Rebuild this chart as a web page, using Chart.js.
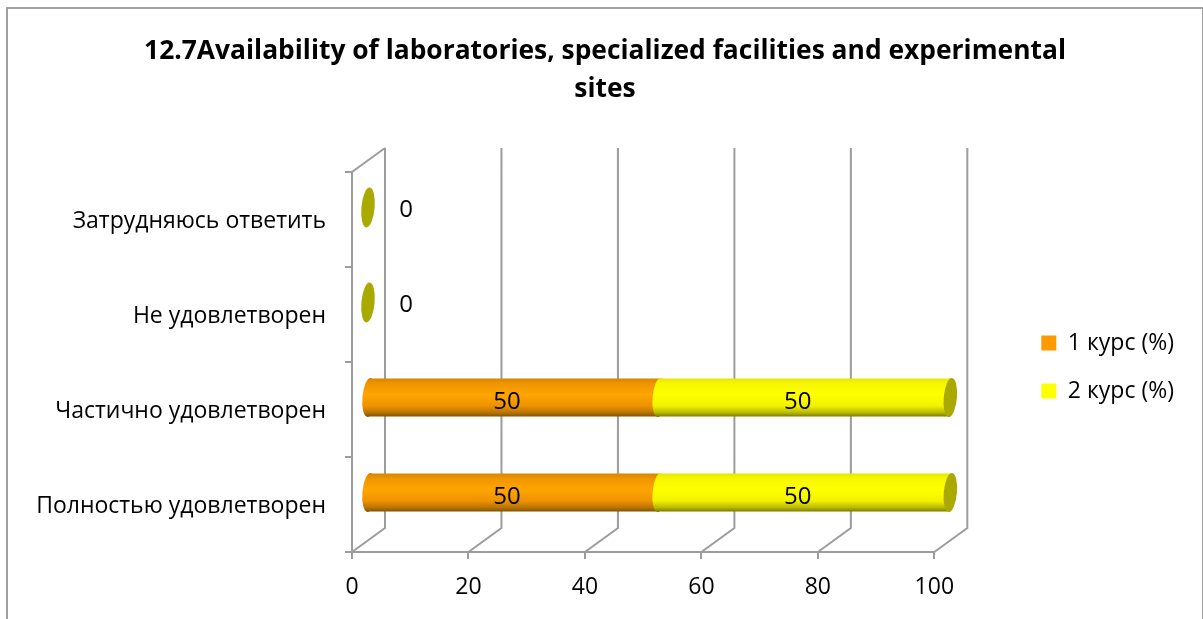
<!DOCTYPE html>
<html><head><meta charset="utf-8">
<script src="https://cdn.jsdelivr.net/npm/chart.js@4"></script>
<style>
html,body{margin:0;padding:0;background:#fff;overflow:hidden}
#frame{position:absolute;left:6px;top:7px;width:1194px;height:620px;border:2px solid #a0a0a0;border-bottom:none}
#frame canvas{display:block}
</style></head><body>
<div id="frame"><canvas id="c" width="1194" height="612"></canvas></div>
<script>
const titleLines = ['12.7Availability of laboratories, specialized facilities and experimental','sites'];
const categories = ['Затрудняюсь ответить','Не удовлетворен','Частично удовлетворен','Полностью удовлетворен'];
const course1 = [0,0,50,50];
const course2 = [0,0,50,50];
const seriesNames = ['1 курс (%)','2 курс (%)'];
const tickValues = [0,20,40,60,80,100];
const legendColors = ['#ff9900','#ffff00'];

const FONT = '"Open Sans"';
const GRID = '#9c9c9c';
const DEPTH_X = 33, DEPTH_Y = 24;
const OFF_X = 16, OFF_Y = -12;
const CAP = 6.6, TILT = 5*Math.PI/180;
const LEGEND_CENTER = 358;

function grad(ctx, top, h, stops){
  const g = ctx.createLinearGradient(0, top, 0, top+h);
  stops.forEach(s=>g.addColorStop(s[0], s[1]));
  return g;
}
const ORANGE = [[0,'#d98300'],[0.12,'#ee9400'],[0.42,'#ffa500'],[0.72,'#ee9200'],[0.9,'#b87400'],[1,'#7f5408']];
const YELLOW = [[0,'#e6e600'],[0.12,'#f6f600'],[0.42,'#ffff00'],[0.72,'#f2f200'],[0.9,'#b8b800'],[1,'#7c7c00']];
function fillFor(stops, solid){
  return c => {
    const y = c.chart.scales.y;
    if(!y || c.dataIndex===undefined) return solid;
    const p = y.getPixelForValue(c.dataIndex);
    if(!Number.isFinite(p)) return solid;
    return grad(c.chart.ctx, p-19, 38, stops);
  };
}

const wallPlugin = {
  id:'walls',
  beforeDraw(chart){
    const lg = chart.legend, h = lg.bottom-lg.top;
    lg.top = LEGEND_CENTER-h/2; lg.bottom = LEGEND_CENTER+h/2;
  },
  beforeDatasetsDraw(chart){
    const {ctx, scales:{x,y}} = chart;
    const bot = y.bottom, top = y.top;
    ctx.save();
    ctx.strokeStyle = GRID; ctx.lineWidth = 2;
    ctx.beginPath();
    tickValues.forEach(v=>{
      const px = x.getPixelForValue(v);
      ctx.moveTo(px, bot); ctx.lineTo(px+DEPTH_X, bot-DEPTH_Y);
      ctx.lineTo(px+DEPTH_X, top-DEPTH_Y);
    });
    const l = x.getPixelForValue(0);
    ctx.moveTo(l, bot); ctx.lineTo(l, top); ctx.lineTo(l+DEPTH_X, top-DEPTH_Y);
    ctx.stroke();
    ctx.restore();
  }
};
const barPlugin = {
  id:'tubes',
  beforeDatasetDraw(chart){ chart.ctx.save(); chart.ctx.translate(OFF_X, OFF_Y); },
  afterDatasetDraw(chart){ chart.ctx.restore(); },
  afterDatasetsDraw(chart){
    const ctx = chart.ctx;
    ctx.save();
    ctx.translate(OFF_X, OFF_Y);
    [0,1].forEach(i=>{
      const stops = i===0 ? ORANGE : YELLOW;
      chart.getDatasetMeta(i).data.forEach(el=>{
        if(el.x === el.base){
          if(i===1){
            ctx.beginPath();
            ctx.ellipse(el.x, el.y, CAP, 20, TILT, 0, 2*Math.PI);
            ctx.fillStyle = '#a9a900';
            ctx.fill();
          }
          return;
        }
        const h = el.height, top = el.y-h/2;
        ctx.beginPath();
        ctx.ellipse(el.base, el.y, CAP, h/2+0.5, TILT, 0, 2*Math.PI);
        ctx.fillStyle = grad(ctx, top, h, stops);
        ctx.fill();
        if(i===1){
          ctx.beginPath();
          ctx.ellipse(el.x, el.y, CAP, h/2+0.5, TILT, 0, 2*Math.PI);
          ctx.fillStyle = '#a9a900';
          ctx.fill();
        }
      });
    });
    ctx.restore();

    ctx.save();
    ctx.font = '24px '+FONT; ctx.fillStyle = '#000';
    ctx.textAlign='center'; ctx.textBaseline='middle';
    chart.data.datasets.forEach((ds,i)=>{
      chart.getDatasetMeta(i).data.forEach((el,j)=>{
        const v = ds.data[j];
        if(v===0){
          if(i===0) ctx.fillText('0', el.x+54, el.y-9);
        } else {
          ctx.fillText(String(v), (el.x+el.base)/2+9, el.y-7);
        }
      });
    });
    ctx.restore();
  }
};

new Chart(document.getElementById('c'),{
  type:'bar',
  data:{labels:categories,datasets:[
    {label:seriesNames[0],data:course1,backgroundColor:fillFor(ORANGE,legendColors[0]),borderWidth:0},
    {label:seriesNames[1],data:course2,backgroundColor:fillFor(YELLOW,legendColors[1]),borderWidth:0}
  ]},
  options:{
    indexAxis:'y',responsive:false,animation:false,
    categoryPercentage:1,barPercentage:0.4,
    layout:{autoPadding:false,padding:{left:18,right:18,top:0,bottom:0}},
    scales:{
      x:{type:'linear',stacked:true,min:0,max:100,
        afterBuildTicks(s){s.ticks=tickValues.map(v=>({value:v}));},
        grid:{drawOnChartArea:false,drawTicks:true,tickLength:7,color:GRID,lineWidth:2},
        border:{color:GRID,width:2},
        ticks:{color:'#000',font:{family:FONT,size:23},padding:15,maxRotation:0,autoSkip:false},
        afterFit(s){s.height=69;}
      },
      y:{type:'category',stacked:true,
        grid:{drawOnChartArea:false,drawTicks:true,tickLength:7,color:GRID,lineWidth:2,offset:true},
        border:{display:false},
        ticks:{color:'#000',font:{family:FONT,size:23},padding:19,autoSkip:false,labelOffset:2},
        afterFit(s){s.width=326;}
      },
      gap:{type:'linear',position:'right',display:true,
        grid:{display:false},border:{display:false},ticks:{display:false},
        afterFit(s){s.width=82;}
      }
    },
    plugins:{
      title:{display:true,text:titleLines,color:'#000',font:{family:FONT,size:26.4,weight:'bold',lineHeight:1.44},padding:{top:23,bottom:64}},
      legend:{position:'right',align:'center',labels:{color:'#000',font:{family:FONT,size:23},boxWidth:15,boxHeight:15,padding:25,
        generateLabels(chart){
          return Chart.defaults.plugins.legend.labels.generateLabels(chart).map((it,i)=>Object.assign(it,{fillStyle:legendColors[i],strokeStyle:legendColors[i],lineWidth:0}));
        }}},
      tooltip:{enabled:false}
    }
  },
  plugins:[wallPlugin,barPlugin]
});
</script>
</body></html>
